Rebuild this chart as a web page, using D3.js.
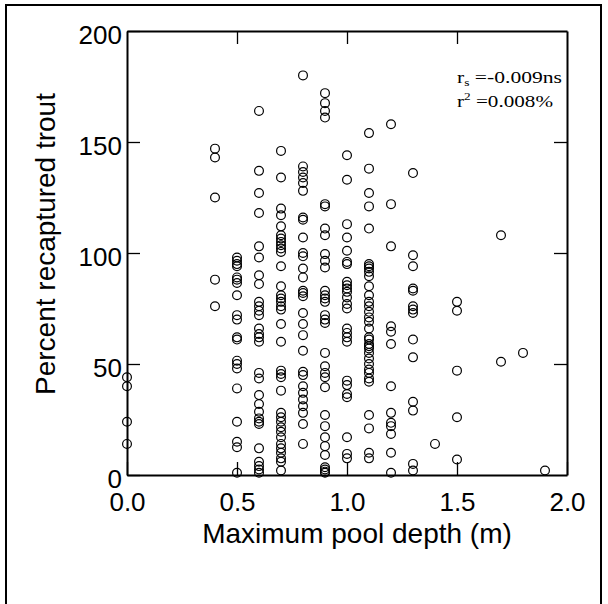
<!DOCTYPE html>
<html>
<head>
<meta charset="utf-8">
<script src="https://cdn.jsdelivr.net/npm/d3@7"></script>
<style>
  body { margin: 0; background: #fff; }
  svg { display: block; }
</style>
</head>
<body>
<div id="chart"></div>
<script>
var depths = [0.0, 0.4, 0.5, 0.6, 0.7, 0.8, 0.9, 1.0, 1.1, 1.2, 1.3, 1.4, 1.5, 1.7, 1.8, 1.9];
var recaptured = [
  [44, 40, 24, 14],
  [147, 143, 125, 88, 76],
  [98, 96.5, 95, 94, 89, 88, 86.5, 81, 72, 70, 62, 61, 51.5, 50, 48, 39, 24, 15, 12.5, 1],
  [164, 137, 127, 118, 103, 98, 90, 86, 78, 76, 74, 72, 66, 63.5, 62, 60, 46, 43.5, 36, 32, 28.5, 25.5, 24, 23, 12, 6, 4, 2.5, 1],
  [146, 134, 120, 117, 112, 108, 106.5, 105, 103.5, 102, 100.5, 94, 85, 81, 79.5, 78, 76, 74.5, 68, 60, 47, 45.5, 44, 38, 28, 26, 24, 21.5, 19.5, 17, 14, 12, 10, 7.5, 6, 2],
  [180, 139, 136.5, 134, 131.5, 128, 116, 115, 107, 100, 98.5, 93, 89, 83, 82, 80.5, 73, 68, 63, 56, 46.5, 45, 40, 37, 34, 31, 28, 23, 14],
  [172, 167.5, 164, 161, 122, 121, 111, 108, 99.5, 96.5, 93.5, 83, 81, 79.5, 78, 72, 70, 68.5, 55, 49, 46, 44, 39.5, 27, 22, 17, 13, 9, 3.5, 2.5, 1.5, 1],
  [144, 133, 113, 107, 101, 96, 95, 87, 85.5, 84, 82.5, 80, 77, 75, 66, 64, 62, 60, 42.5, 40.5, 36.5, 35, 17, 9.5, 7.5],
  [154, 138, 127, 121, 111, 95, 94, 93, 91.5, 89.5, 85, 81, 78, 76, 73.5, 71, 69, 66, 62, 61, 59, 58, 57, 55, 52.5, 50, 47.5, 46, 43.5, 42, 27, 21, 10, 7.5],
  [158, 122, 103, 67, 64.5, 59, 40, 28, 23.5, 22, 18.5, 10, 1],
  [136, 99, 94, 84, 83, 76, 74.5, 73, 61, 53, 33, 29, 5, 2],
  [14],
  [78, 74, 47, 26, 7],
  [108, 51],
  [55],
  [2]
];
var xTicks = [0, 0.5, 1.0, 1.5, 2.0];
var yTicks = [0, 50, 100, 150, 200];

var width = 608, height = 604;
var plotLeft = 127, plotRight = 567, plotTop = 31, plotBottom = 475;

var svg = d3.select("#chart").append("svg")
  .attr("width", width).attr("height", height);

// outer frame
svg.append("rect")
  .attr("x", 6).attr("y", 5).attr("width", 595).attr("height", 620)
  .attr("fill", "none").attr("stroke", "#000").attr("stroke-width", 2);

var x = d3.scaleLinear().domain([0, 2]).range([plotLeft, plotRight]);
var y = d3.scaleLinear().domain([0, 200]).range([plotBottom, plotTop]);

var points = [];
depths.forEach(function (d, i) {
  recaptured[i].forEach(function (v) { points.push({ depth: d, pct: v }); });
});

function styleAxis(g) {
  g.select(".domain").attr("stroke-width", 2);
  g.selectAll(".tick line").attr("stroke-width", 1.3);
  g.selectAll("text").attr("font-family", "'Liberation Sans', Arial, sans-serif")
    .attr("font-size", 26).attr("fill", "#000");
}

svg.append("g").attr("transform", "translate(0," + plotBottom + ")")
  .call(d3.axisBottom(x).tickValues(xTicks).tickFormat(d3.format(".1f"))
    .tickSize(-13).tickSizeOuter(0).tickPadding(17.5))
  .call(styleAxis);

svg.append("g").attr("transform", "translate(" + plotLeft + ",0)")
  .call(d3.axisLeft(y).tickValues(yTicks).tickFormat(d3.format("d"))
    .tickSize(-13).tickSizeOuter(0).tickPadding(5))
  .call(styleAxis)
  .selectAll("text").attr("dy", "0.47em");

svg.append("g").attr("transform", "translate(0," + plotTop + ")")
  .call(d3.axisTop(x).tickValues([0.5, 1.0, 1.5]).tickFormat("")
    .tickSize(-13).tickSizeOuter(0))
  .call(styleAxis);

svg.append("g").attr("transform", "translate(" + plotRight + ",0)")
  .call(d3.axisRight(y).tickValues([50, 100, 150]).tickFormat("")
    .tickSize(-13).tickSizeOuter(0))
  .call(styleAxis);

svg.append("g").selectAll("circle")
  .data(points)
  .enter().append("circle")
  .attr("cx", function (d) { return x(d.depth); })
  .attr("cy", function (d) { return y(d.pct); })
  .attr("r", 4.4)
  .attr("fill", "none")
  .attr("stroke", "#000")
  .attr("stroke-width", 1.2);

// axis titles
svg.append("text")
  .attr("x", 357).attr("y", 543)
  .attr("text-anchor", "middle")
  .attr("font-family", "'Liberation Sans', Arial, sans-serif")
  .attr("font-size", 28)
  .text("Maximum pool depth (m)");

svg.append("text")
  .attr("transform", "translate(55,244) rotate(-90)")
  .attr("text-anchor", "middle")
  .attr("font-family", "'Liberation Sans', Arial, sans-serif")
  .attr("font-size", 28)
  .text("Percent recaptured trout");

// statistics note
var note = svg.append("g")
  .attr("font-family", "'Liberation Serif', 'Times New Roman', serif")
  .attr("fill", "#000");

var t1 = note.append("text").attr("x", 457).attr("y", 83).attr("font-size", 17.5)
  .attr("textLength", 105).attr("lengthAdjust", "spacingAndGlyphs");
t1.append("tspan").text("r");
t1.append("tspan").attr("font-size", 11).attr("dy", 3).text("s");
t1.append("tspan").attr("dy", -3).text(" =-0.009ns");

var t2 = note.append("text").attr("x", 457).attr("y", 107).attr("font-size", 17.5)
  .attr("textLength", 96).attr("lengthAdjust", "spacingAndGlyphs");
t2.append("tspan").text("r");
t2.append("tspan").attr("font-size", 11).attr("dy", -7).text("2");
t2.append("tspan").attr("dy", 7).text(" =0.008%");
</script>
</body>
</html>
